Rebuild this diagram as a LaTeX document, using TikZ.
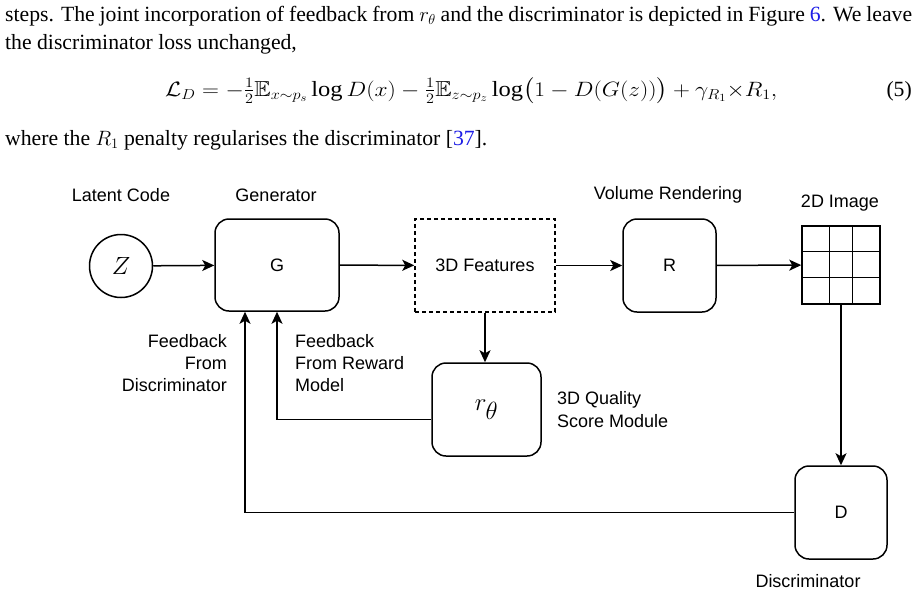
\documentclass[tikz,border=0pt]{standalone}
\usepackage{amsmath,amssymb,graphicx}
\usepackage{fontspec}
\setmainfont{Liberation Serif}
\newfontfamily\diagfont{Liberation Sans}
\usetikzlibrary{arrows.meta,calc}
\definecolor{linkblue}{RGB}{30,30,230}
\begin{document}
\begin{tikzpicture}[x=1pt,y=-1pt,
  lbl/.style={font=\diagfont\fontsize{18}{22}\selectfont, inner sep=0pt},
  box/.style={draw, line width=1.5pt, rounded corners=14pt, inner sep=0pt, font=\diagfont\fontsize{18}{22}\selectfont},
  arr/.style={line width=1.5pt, -{Stealth[length=12pt,width=11pt,inset=3pt]}},
  ln/.style={line width=1.5pt},
  body/.style={inner sep=0pt, font=\fontsize{21.7}{26}\selectfont}]
\useasboundingbox (0,0) rectangle (917,595);
% body text
\node[body, anchor=base west] (t1) at (5,21) {\hbox to 907pt{steps. The joint incorporation of feedback from $r_\theta$ and the discriminator is depicted in Figure \textcolor{linkblue}{6}. We leave}};
\node[body, anchor=base west] (t2) at (5,49) {the discriminator loss unchanged,};
\node[body, anchor=base west] (eq) at (165,96) {\resizebox{612pt}{\height}{$\mathcal{L}_D = -\tfrac{1}{2}\mathbb{E}_{x\sim p_s}\log D(x) - \tfrac{1}{2}\mathbb{E}_{z\sim p_z}\log\bigl(1 - D(G(z))\bigr) + \gamma_{R_1}{\times}R_1,$}};
\node[body, anchor=base east] (eqn) at (912,96) {(5)};
\node[body, anchor=base west] (t4) at (5,145) {where the $R_1$ penalty regularises the discriminator [\textcolor{linkblue}{37}].};
% diagram
\node[draw, circle, line width=1.5pt, minimum size=63pt, inner sep=0pt] (Z) at (121,266) {\fontsize{23}{23}\selectfont$Z$};
\node[box, minimum width=124pt, minimum height=92pt] (G) at (277,265) {G};
\node[box, dashed, dash pattern=on 4pt off 3pt, rounded corners=0pt, minimum width=140pt, minimum height=93pt] (F) at (485,265.5) {3D Features};
\node[box, minimum width=93pt, minimum height=93pt] (R) at (669.5,265.5) {R};
\node[draw, line width=1.5pt, minimum size=78pt, inner sep=0pt] (I) at (841,265) {};
\draw[ln] ($(I.north west)+(28,0)$) -- ($(I.south west)+(28,0)$);
\draw[ln] ($(I.north west)+(51,0)$) -- ($(I.south west)+(51,0)$);
\draw[ln] ($(I.north west)+(0,26)$) -- ($(I.north east)+(0,26)$);
\draw[ln] ($(I.north west)+(0,52)$) -- ($(I.north east)+(0,52)$);
\node[box, minimum width=109pt, minimum height=93pt] (r) at (486.5,409.5) {\fontsize{35}{35}\selectfont$r_\theta$};
\node[box, minimum width=92pt, minimum height=93pt] (D) at (841,512.5) {D};
% labels
\node[lbl] (lz) at (121,195) {Latent Code};
\node[lbl] (lg) at (276,195) {Generator};
\node[lbl] (lr) at (668,195) {Volume Rendering};
\node[lbl] (li) at (840,203) {2D Image};
\node[lbl] (ld) at (808,581) {Discriminator};
\node[lbl, anchor=east, align=right] (fd) at (227,363) {Feedback\\From\\Discriminator};
\node[lbl, anchor=west, align=left] (fr) at (295,363) {Feedback\\From Reward\\Model};
\node[lbl, anchor=west, align=left, font=\diagfont\fontsize{18}{23}\selectfont] (lq) at (557,410) {3D Quality\\Score Module};
% connectors
\draw[arr] (Z) -- (G);
\draw[arr] (G) -- (F);
\draw[arr] (F) -- (R);
\draw[arr] (R) -- (I);
\draw[arr] (F.south) -- (F.south |- r.north);
\draw[arr] (I.south) -- (D.north);
\draw[arr] ([yshift=-10pt]r.west) -| (G.south);
\draw[arr] (D.west) -| ([xshift=-32pt]G.south);
\end{tikzpicture}
\end{document}
